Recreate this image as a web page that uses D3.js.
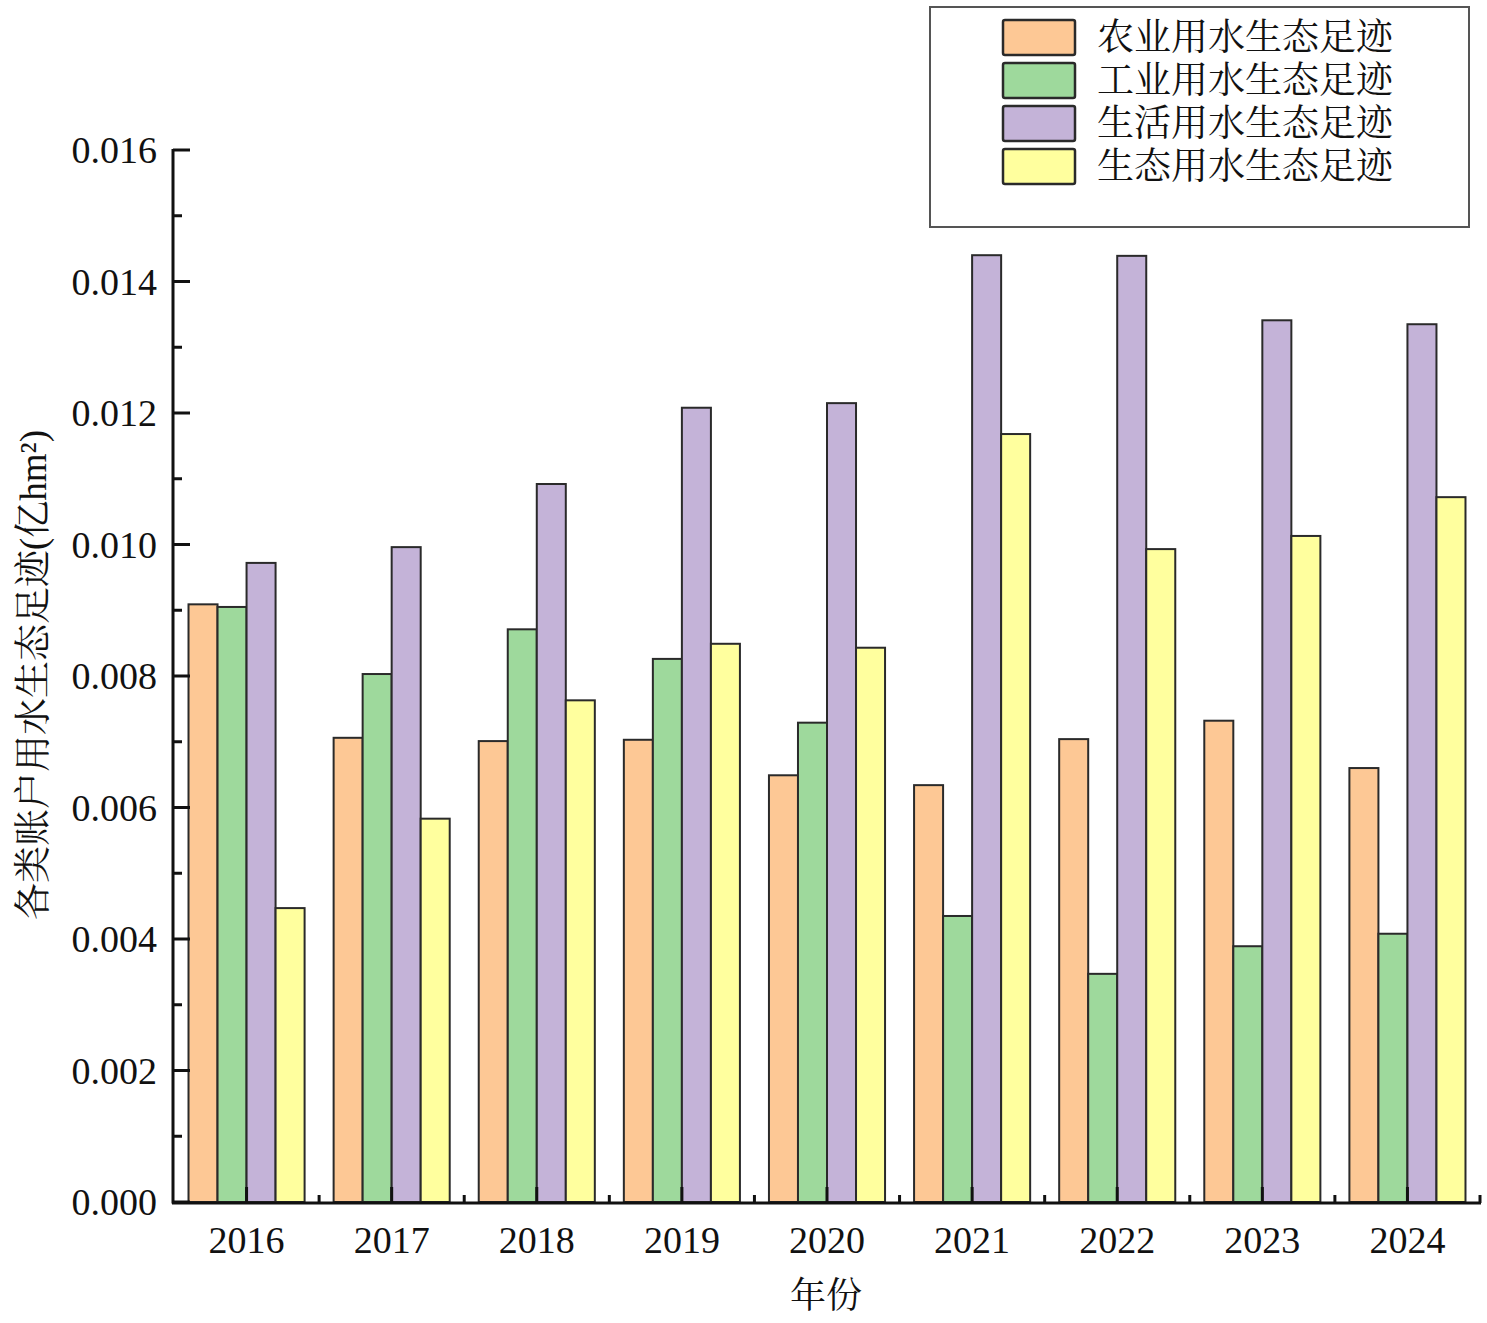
<!DOCTYPE html>
<html lang="zh">
<head>
  <meta charset="UTF-8">
  <title>各类账户用水生态足迹</title>
  <script src="https://d3js.org/d3.v7.min.js"></script>
  <style>
    body { margin: 0; background: #fff; }
    svg { display: block; }
    text { font-family: "Liberation Serif", "Noto Serif CJK SC", "Noto Sans CJK SC", serif; fill: #111; }
    .bar { stroke: #2a2a2a; stroke-width: 2px; }
  </style>
</head>
<body>
  <svg width="1487" height="1323"></svg>

  <script>
    const years = ["2016", "2017", "2018", "2019", "2020", "2021", "2022", "2023", "2024"];
    const seriesNames = ["农业用水生态足迹", "工业用水生态足迹", "生活用水生态足迹", "生态用水生态足迹"];
    const colors = ["#fdc895", "#9ed99c", "#c4b3d8", "#ffff9e"];

    const agriculture = [0.00909, 0.00706, 0.00701, 0.00703, 0.00649, 0.00634, 0.00704, 0.00732, 0.00660];
    const industry    = [0.00905, 0.00803, 0.00871, 0.00826, 0.00729, 0.00435, 0.00347, 0.00389, 0.00408];
    const domestic    = [0.00972, 0.00996, 0.01092, 0.01208, 0.01215, 0.01440, 0.01439, 0.01341, 0.01335];
    const ecological  = [0.00447, 0.00583, 0.00763, 0.00849, 0.00843, 0.01168, 0.00993, 0.01013, 0.01072];

    const yTicks = [0, 0.002, 0.004, 0.006, 0.008, 0.010, 0.012, 0.014, 0.016];

    const allSeries = [agriculture, industry, domestic, ecological];
    const table = years.map((yr, i) => ({
      year: yr,
      values: allSeries.map((s, k) => ({ key: k, value: s[i] }))
    }));

    const svg = d3.select("svg");
    const mLeft = 174, mRight = 1480, mTop = 150, mBottom = 1202;

    const x = d3.scaleBand().domain(years).range([mLeft, mRight]).padding(0);
    const bw = x.bandwidth();
    const xInner = d3.scaleBand().domain(d3.range(4)).range([bw * 0.1, bw * 0.9]).padding(0);
    const y = d3.scaleLinear().domain([0, 0.016]).range([mBottom, mTop]);

    // bars
    const groups = svg.append("g").selectAll("g")
      .data(table)
      .join("g")
      .attr("transform", d => `translate(${x(d.year)},0)`);

    groups.selectAll("rect")
      .data(d => d.values)
      .join("rect")
      .attr("class", "bar")
      .attr("x", d => xInner(d.key))
      .attr("y", d => y(d.value))
      .attr("width", xInner.bandwidth())
      .attr("height", d => y(0) - y(d.value))
      .attr("fill", d => colors[d.key]);

    // y axis (ticks inside)
    const yAxis = svg.append("g").attr("transform", `translate(${mLeft - 1},0)`);
    yAxis.append("line")
      .attr("x1", 0).attr("x2", 0).attr("y1", mTop - 1).attr("y2", mBottom + 1.5)
      .attr("stroke", "#111").attr("stroke-width", 3);
    yAxis.selectAll(".major").data(yTicks).join("line")
      .attr("x1", 0).attr("x2", 17).attr("y1", d => y(d)).attr("y2", d => y(d))
      .attr("stroke", "#111").attr("stroke-width", 3);
    const minor = d3.range(yTicks.length - 1).map(i => (yTicks[i] + yTicks[i + 1]) / 2);
    yAxis.selectAll(".minor").data(minor).join("line")
      .attr("x1", 0).attr("x2", 9).attr("y1", d => y(d)).attr("y2", d => y(d))
      .attr("stroke", "#111").attr("stroke-width", 3);
    yAxis.selectAll("text").data(yTicks).join("text")
      .attr("x", -16).attr("y", d => y(d)).attr("dy", "0.35em")
      .attr("text-anchor", "end")
      .style("font-size", "38px")
      .text(d3.format(".3f"));

    // x axis
    const xAxis = svg.append("g");
    xAxis.append("line")
      .attr("x1", mLeft - 2).attr("x2", mRight + 1).attr("y1", mBottom + 1).attr("y2", mBottom + 1)
      .attr("stroke", "#111").attr("stroke-width", 3);
    xAxis.selectAll(".major").data(years).join("line")
      .attr("x1", d => x(d) + bw / 2).attr("x2", d => x(d) + bw / 2)
      .attr("y1", mBottom + 1).attr("y2", mBottom - 15)
      .attr("stroke", "#111").attr("stroke-width", 3);
    xAxis.selectAll(".minor").data(years.slice(1).concat(["end"])).join("line")
      .attr("x1", (d, i) => i < years.length - 1 ? x(d) : mRight)
      .attr("x2", (d, i) => i < years.length - 1 ? x(d) : mRight)
      .attr("y1", mBottom + 1).attr("y2", mBottom - 7)
      .attr("stroke", "#111").attr("stroke-width", 3);
    xAxis.selectAll("text").data(years).join("text")
      .attr("x", d => x(d) + bw / 2).attr("y", 1253)
      .attr("text-anchor", "middle")
      .style("font-size", "38px")
      .text(d => d);

    // axis titles
    svg.append("text")
      .attr("x", 826).attr("y", 1308)
      .attr("text-anchor", "middle")
      .style("font-size", "36px")
      .text("年份");
    svg.append("text")
      .attr("transform", `translate(46, ${675}) rotate(-90)`)
      .attr("text-anchor", "middle")
      .style("font-size", "37px")
      .text("各类账户用水生态足迹(亿hm²)");

    // legend
    const legend = svg.append("g");
    legend.append("rect")
      .attr("x", 930).attr("y", 7).attr("width", 539).attr("height", 220)
      .attr("fill", "#fff").attr("stroke", "#555").attr("stroke-width", 2);
    const items = legend.selectAll("g.item").data(seriesNames).join("g")
      .attr("transform", (d, i) => `translate(0, ${20 + i * 43})`);
    items.append("rect")
      .attr("x", 1003).attr("y", 0).attr("width", 72).attr("height", 35)
      .attr("rx", 2)
      .attr("fill", (d, i) => colors[i])
      .attr("stroke", "#2a2a2a").attr("stroke-width", 2.5);
    items.append("text")
      .attr("x", 1097).attr("y", 17).attr("dy", "0.36em")
      .style("font-size", "37px")
      .text(d => d);
  </script>
</body>
</html>
